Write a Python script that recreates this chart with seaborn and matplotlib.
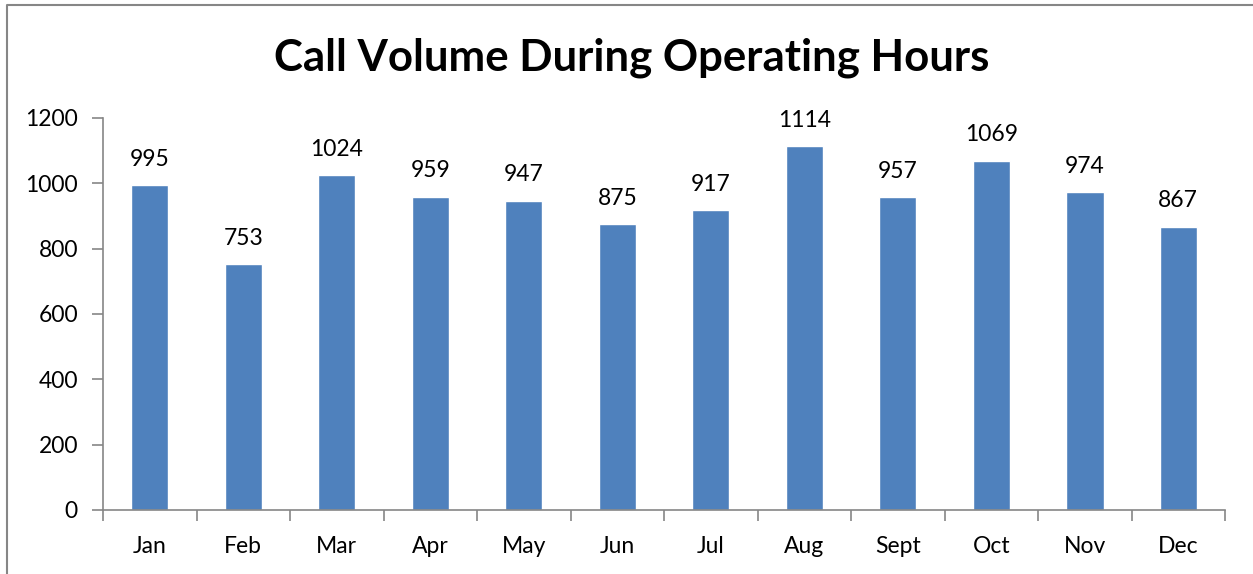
import matplotlib
matplotlib.use("Agg")
import matplotlib.pyplot as plt
import seaborn as sns
import pandas as pd
from matplotlib.lines import Line2D

months = ["Jan", "Feb", "Mar", "Apr", "May", "Jun", "Jul", "Aug", "Sept", "Oct", "Nov", "Dec"]
calls = [995, 753, 1024, 959, 947, 875, 917, 1114, 957, 1069, 974, 867]

df = pd.DataFrame({"Month": months, "Calls": calls})

sns.set_style("white")
plt.rcParams["font.family"] = ["Lato", "DejaVu Sans"]
plt.rcParams["text.color"] = "black"
plt.rcParams["xtick.color"] = "black"
plt.rcParams["ytick.color"] = "black"

fig = plt.figure(figsize=(12.53, 5.74), dpi=100)
ax = fig.add_axes([0.0822, 0.1115, 0.8955, 0.683])

sns.barplot(data=df, x="Month", y="Calls", color="#4F81BD", width=0.4, saturation=1, ax=ax)

for i, v in enumerate(calls):
    ax.annotate(str(v), (i, v), xytext=(0, 11), textcoords="offset points",
                ha="center", va="bottom", fontsize=16.5, color="black")

ax.set_xlim(-0.5, len(months) - 0.5)
ax.set_ylim(0, 1200)
ax.set_yticks(range(0, 1201, 200))
ax.set_xlabel("")
ax.set_ylabel("")

for s in ["top", "right"]:
    ax.spines[s].set_visible(False)
for s in ["left", "bottom"]:
    ax.spines[s].set_color("#868686")
    ax.spines[s].set_linewidth(1.2)

ax.tick_params(axis="y", which="major", length=8, width=1.2, color="#868686",
               labelcolor="black", labelsize=16.5, pad=10, left=True)
ax.tick_params(axis="x", which="major", length=0, labelcolor="black", labelsize=16.5, pad=19)
ax.set_xticks([i - 0.5 for i in range(len(months) + 1)], minor=True)
ax.tick_params(axis="x", which="minor", length=8, width=1.2, color="#868686", bottom=True)

fig.suptitle("Call Volume During Operating Hours", x=0.504, y=0.935,
             fontsize=31.5, fontweight="bold", color="black")

# chart frame: only the left and top edges are visible in the crop
fig.lines.append(Line2D([0.0056, 0.0056, 1.0], [0.0, 0.991, 0.991], transform=fig.transFigure,
                        color="#868686", linewidth=1.5))

fig.savefig("out.png", dpi=100)
